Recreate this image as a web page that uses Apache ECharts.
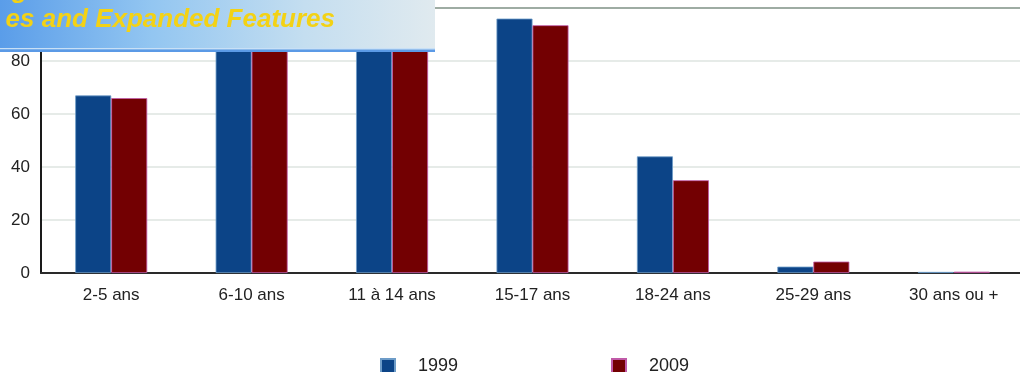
<!DOCTYPE html>
<html>
<head>
<meta charset="utf-8">
<script src="https://cdn.jsdelivr.net/npm/echarts@6/dist/echarts.min.js"></script>
<style>
  html, body { margin: 0; padding: 0; background: #ffffff; }
  #chart { width: 1020px; height: 372px; }
</style>
</head>
<body>
<div id="chart"></div>
<script>
// Age groups and share values (%) for the two survey years
const categories = ['2-5 ans', '6-10 ans', '11 à 14 ans', '15-17 ans', '18-24 ans', '25-29 ans', '30 ans ou +'];
const values1999 = [67, 90, 91, 96, 44, 2.4, 0.4];
const values2009 = [66, 88, 89, 93.5, 35, 4.3, 0.5];
const seriesNames = ['1999', '2009'];
const yTicks = { min: 0, max: 100, interval: 20 };
const bannerText = 'es and Expanded Features';

const BLUE = '#0c4487';
const RED = '#730002';
const FONT = '"Liberation Sans", Arial, sans-serif';

const chart = echarts.init(document.getElementById('chart'));

// Title banner laid over the upper-left corner of the plot
const bannerZ = 100;
const banner = [
  {
    type: 'rect', z: bannerZ,
    shape: { x: 0, y: 0, width: 435, height: 52 },
    style: {
      fill: new echarts.graphic.LinearGradient(0, 0, 1, 0, [
        { offset: 0, color: '#5a9de9' },
        { offset: 0.35, color: '#93c6f1' },
        { offset: 0.7, color: '#c4def0' },
        { offset: 1, color: '#e0eaef' }
      ])
    }
  },
  { type: 'rect', z: bannerZ, shape: { x: 0, y: 48, width: 435, height: 1.5 }, style: { fill: '#c8e0f6' } },
  { type: 'rect', z: bannerZ, shape: { x: 0, y: 49.5, width: 435, height: 2.5 }, style: { fill: '#5b9ae6' } },
  {
    type: 'text', z: bannerZ + 1, x: 335, y: 20,
    style: {
      text: bannerText, fill: '#f3d215',
      font: 'italic bold 26px ' + FONT,
      textAlign: 'right', textVerticalAlign: 'middle'
    }
  },
  {
    type: 'text', z: bannerZ + 1, x: 12, y: 4,
    style: {
      text: 'g', fill: '#f3d215',
      font: 'italic bold 26px ' + FONT,
      textAlign: 'left', textVerticalAlign: 'bottom'
    }
  }
];

chart.setOption({
  animation: false,
  backgroundColor: '#ffffff',
  grid: { left: 41, top: 8, right: -4, bottom: 99, containLabel: false, outerBoundsMode: 'none' },
  legend: [
    {
      data: [seriesNames[0]], left: 375, top: 352,
      icon: 'rect', itemWidth: 14, itemHeight: 14,
      textStyle: { fontFamily: FONT, fontSize: 18, color: '#222', padding: [0, 0, 0, 18] }
    },
    {
      data: [seriesNames[1]], left: 606, top: 352,
      icon: 'rect', itemWidth: 14, itemHeight: 14,
      textStyle: { fontFamily: FONT, fontSize: 18, color: '#222', padding: [0, 0, 0, 18] }
    }
  ],
  xAxis: {
    type: 'category',
    data: categories,
    axisLine: { lineStyle: { color: '#2a2a2a', width: 2 } },
    axisTick: { show: false },
    axisLabel: { fontFamily: FONT, fontSize: 17, color: '#222', margin: 14, interval: 0 }
  },
  yAxis: {
    type: 'value',
    min: yTicks.min, max: yTicks.max, interval: yTicks.interval,
    axisLine: { show: true, lineStyle: { color: '#1a1a1a', width: 2 } },
    axisTick: { show: false },
    axisLabel: { fontFamily: FONT, fontSize: 17, color: '#222', margin: 11 },
    splitLine: {
      lineStyle: {
        width: 2,
        color: ['#e6ebe8', '#e6ebe8', '#e6ebe8', '#e6ebe8', '#e6ebe8', '#9eaca3']
      }
    }
  },
  series: [
    {
      name: seriesNames[0], type: 'bar', data: values1999,
      barWidth: 36, barGap: '0%',
      itemStyle: { color: BLUE, borderColor: '#6d9cc8', borderWidth: 0.8 }
    },
    {
      name: seriesNames[1], type: 'bar', data: values2009,
      barWidth: 36, barGap: '0%',
      itemStyle: { color: RED, borderColor: '#c05aa8', borderWidth: 0.8 }
    }
  ],
  graphic: banner
});
</script>
</body>
</html>
